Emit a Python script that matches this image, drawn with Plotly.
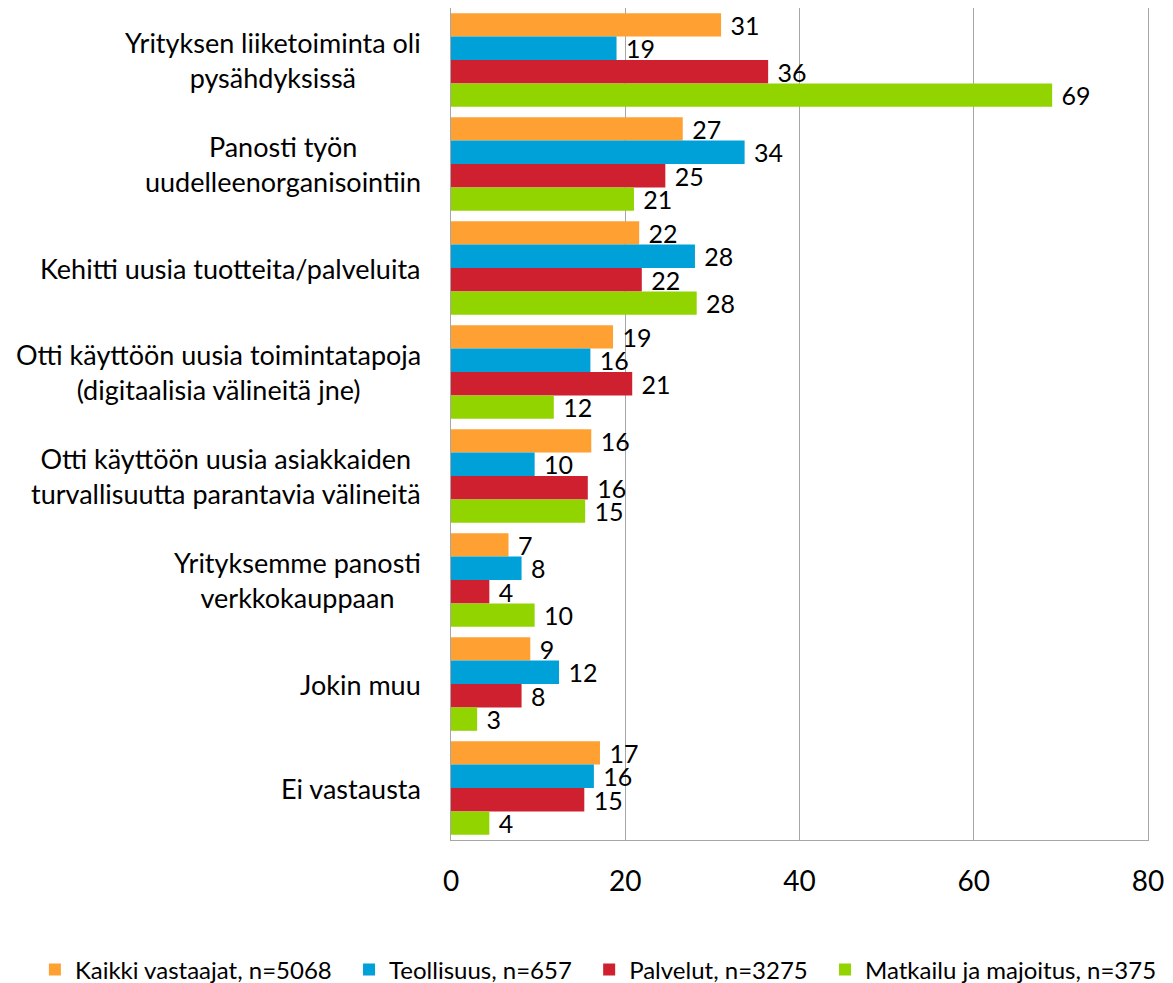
import plotly.graph_objects as go

categories = [
    "Yrityksen liiketoiminta oli<br>pysähdyksissä",
    "Panosti työn<br>uudelleenorganisointiin",
    "Kehitti uusia tuotteita/palveluita",
    "Otti käyttöön uusia toimintatapoja<br>(digitaalisia välineitä jne)",
    "Otti käyttöön uusia asiakkaiden<br>turvallisuutta parantavia välineitä",
    "Yrityksemme panosti<br>verkkokauppaan",
    "Jokin muu",
    "Ei vastausta",
]

series_names = [
    "Kaikki vastaajat, n=5068",
    "Teollisuus, n=657",
    "Palvelut, n=3275",
    "Matkailu ja majoitus, n=375",
]

kaikki = [31.0, 26.6, 21.6, 18.6, 16.1, 6.6, 9.1, 17.1]
teollisuus = [19.0, 33.7, 28.0, 16.0, 9.6, 8.1, 12.4, 16.4]
palvelut = [36.4, 24.6, 21.9, 20.8, 15.7, 4.4, 8.1, 15.3]
matkailu = [69.0, 21.0, 28.2, 11.8, 15.4, 9.6, 3.0, 4.4]

x_ticks = [0, 20, 40, 60, 80]

colors = ["#FFA033", "#00A0D9", "#CE202F", "#92D400"]
FONT = "Lato"

fig = go.Figure()
all_series = [kaikki, teollisuus, palvelut, matkailu]
for i, (name, vals, col) in enumerate(zip(series_names, all_series, colors)):
    # a little extra room after each legend entry, like the original
    pad = "\u00a0\u00a0" if i < len(series_names) - 1 else ""
    fig.add_trace(go.Bar(
        y=categories,
        x=vals,
        name=name + pad,
        orientation="h",
        marker=dict(color=col, line=dict(width=0)),
        text=["\u00a0" + f"{v:.0f}" for v in vals],
        textposition="outside",
        constraintext="none",
        textfont=dict(family=FONT, size=25, color="black"),
        cliponaxis=False,
    ))

# category labels, centred lines like the original
for c in categories:
    fig.add_annotation(
        x=0, xref="paper", xanchor="right", xshift=-28,
        y=c, yref="y", yanchor="middle",
        text=c, showarrow=False, align="center",
        font=dict(family=FONT, size=27, color="black"),
    )

# the page body adds an 8px margin, so the figure is a bit smaller
fig.update_layout(
    width=1165,
    height=975,
    barmode="group",
    bargap=0.1,
    bargroupgap=0,
    plot_bgcolor="white",
    paper_bgcolor="white",
    margin=dict(l=443, r=25, t=0, b=143, autoexpand=False),
    font=dict(family=FONT, size=22, color="black"),
    xaxis=dict(
        range=[0, 80],
        tickvals=x_ticks,
        showgrid=True,
        gridcolor="#A6A6A6",
        gridwidth=1,
        showline=True,
        linecolor="#A6A6A6",
        mirror=True,
        zeroline=False,
        ticks="",
        tickfont=dict(family=FONT, size=28),
        ticklabelstandoff=16,
    ),
    yaxis=dict(
        autorange="reversed",
        showticklabels=False,
        showline=True,
        linecolor="#A6A6A6",
        mirror=True,
        showgrid=False,
        ticks="",
    ),
    legend=dict(
        orientation="h",
        xref="paper",
        x=-0.597,
        xanchor="left",
        yref="paper",
        y=-0.156,
        yanchor="middle",
        font=dict(family=FONT, size=24),
        traceorder="normal",
        itemwidth=30,
    ),
)

fig.write_html("out.html")
